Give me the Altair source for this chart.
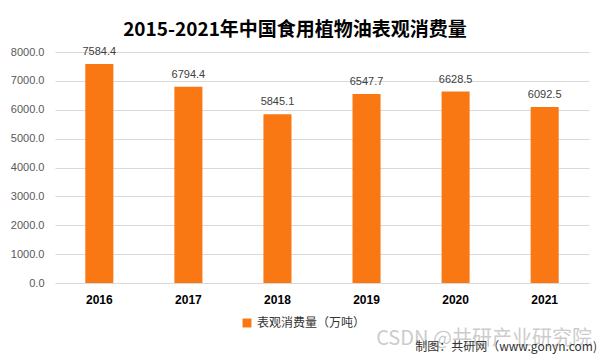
import altair as alt
import pandas as pd

years = ["2016", "2017", "2018", "2019", "2020", "2021"]
values = [7584.4, 6794.4, 5845.1, 6547.7, 6628.5, 6092.5]
series_name = "表观消费量（万吨）"
title_text = "2015-2021年中国食用植物油表观消费量"
watermark = "CSDN @共研产业研究院"
source = "制图：共研网（www.gonyn.com)"

df = pd.DataFrame({"year": years, "value": values, "series": [series_name] * len(years)})

ORANGE = "#FA7814"
CJK = "Noto Sans CJK SC"

y_axis = alt.Axis(tickCount=8, format=".1f", labelOverlap=False,
                  labelFont="Liberation Sans", labelFontSize=11, labelColor="#595959",
                  labelPadding=11, ticks=False, domain=False,
                  gridColor="#D9D9D9", gridWidth=1)
y_scale = alt.Scale(domain=[0, 8000], nice=False)

x_enc = alt.X("year:N", sort=years, title=None,
              scale=alt.Scale(paddingInner=0.685, paddingOuter=0.34),
              axis=alt.Axis(labelAngle=0, labelFont="Liberation Sans", labelFontWeight="bold",
                            labelFontSize=12, labelColor="#000000", labelPadding=11,
                            ticks=False, domain=False))
y_enc = alt.Y("value:Q", title=None, scale=y_scale, axis=y_axis)

bars = alt.Chart().mark_bar(color=ORANGE).encode(
    fill=alt.Fill("series:N", scale=alt.Scale(range=[ORANGE]),
                  legend=alt.Legend(title=None, orient="none", legendX=186, legendY=265,
                                    symbolType="square", symbolSize=80,
                                    labelFont=CJK, labelFontSize=12, labelColor="#333333")),
)

labels = alt.Chart().mark_text(baseline="bottom", dy=-7, font="Liberation Sans", fontSize=11,
                               color="#404040").encode(
    text=alt.Text("value:Q", format=".1f"),
)

main = alt.layer(bars, labels, data=df).encode(x=x_enc, y=y_enc)

wm = alt.Chart(pd.DataFrame({"t": [watermark]})).mark_text(
    font=CJK, fontSize=20, color="#BBBBBB", opacity=0.75, align="center", baseline="middle"
).encode(text="t:N", x=alt.value(429), y=alt.value(287))

src = alt.Chart(pd.DataFrame({"t": [source]})).mark_text(
    font=CJK, fontSize=12, color="#333333", align="right", baseline="middle"
).encode(text="t:N", x=alt.value(542), y=alt.value(295))

chart = alt.layer(main, wm, src).properties(
    width=534, height=231,
    padding={"left": 47, "top": 44, "right": 9, "bottom": 73},
    autosize=alt.AutoSizeParams(type="none"),
    title=alt.TitleParams(title_text, font=CJK, fontSize=19, fontWeight="bold",
                          color="#000000", anchor="middle", frame="group", dx=-27, offset=6),
).configure_view(stroke=None)

chart.save("out.html", embed_options={"renderer": "svg", "actions": False})
